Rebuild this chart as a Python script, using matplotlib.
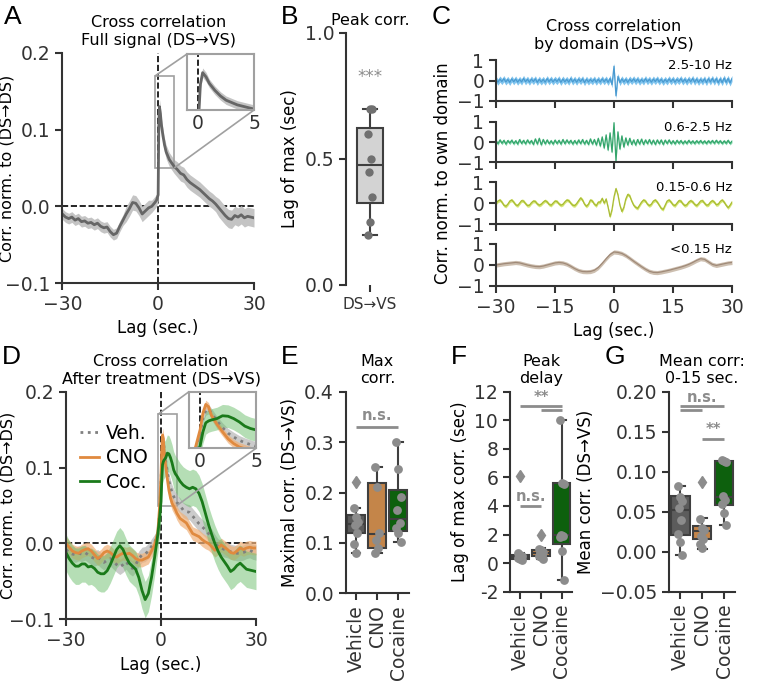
import numpy as np
import matplotlib
matplotlib.use("Agg")
import matplotlib.pyplot as plt
from mpl_toolkits.axes_grid1.inset_locator import mark_inset

# ---------------------------------------------------------------- data
# A: full-signal cross correlation (DS->VS), mean and sem
lag_a = list(range(-30, 0)) + [-0.5, 0, 0.2, 0.4, 0.7, 1, 1.5, 2, 2.5, 3, 3.5,
                               4, 4.5, 5] + list(range(6, 31))
corr_a = [-0.010, -0.014, -0.016, -0.014, -0.018, -0.016, -0.020, -0.019,
          -0.022, -0.021, -0.024, -0.022, -0.026, -0.028, -0.027, -0.033,
          -0.037, -0.035, -0.026, -0.018, -0.010, -0.003, 0.005, 0.004,
          -0.002, -0.010, -0.006, -0.002, 0.000, 0.005,
          0.008, 0.015, 0.105, 0.130, 0.121,
          0.107, 0.092, 0.080, 0.071, 0.066, 0.061, 0.058, 0.055, 0.052,
          0.048, 0.043, 0.041, 0.035, 0.031, 0.028, 0.025, 0.022, 0.018,
          0.014, 0.010, 0.007, 0.003, -0.002, -0.007, -0.012, -0.016,
          -0.017, -0.012, -0.014, -0.011, -0.015, -0.013, -0.014, -0.015]
sem_a = [0.007] * 20 + [0.010] * 8 + [0.008] * 2 + \
        [0.008, 0.008, 0.009, 0.010, 0.010] + [0.009] * 9 + \
        [0.010] * 13 + [0.012] * 12

# B: lag of max correlation per animal
peak_lag = [0.2, 0.25, 0.35, 0.45, 0.5, 0.6, 0.7, 0.7]

# C: cross correlation per frequency domain (0.5 s grid / 1 s grid)
lag_c = np.arange(-30, 30.01, 0.5)
band_fast = [0.06, -0.08, 0.07, -0.05, 0.09, -0.07, 0.05, -0.09, 0.08, -0.06,
             0.07, -0.08, 0.05, -0.07, 0.10, -0.06, 0.06, -0.08, 0.07, -0.05,
             0.08, -0.09, 0.06, -0.07, 0.05, -0.08, 0.09, -0.06, 0.07, -0.07,
             0.06, -0.05, 0.08, -0.09, 0.07, -0.06, 0.05, -0.08, 0.10, -0.07,
             0.06, -0.08, 0.07, -0.05, 0.08, -0.10, 0.06, -0.07, 0.05, -0.06,
             0.07, -0.08, 0.06, -0.07, 0.08, -0.06, 0.07, -0.09, 0.10, -0.20,
             0.70,
             -0.75, 0.20, -0.10, 0.08, -0.07, 0.06, -0.09, 0.07, -0.05, 0.08,
             -0.06, 0.07, -0.08, 0.05, -0.07, 0.09, -0.06, 0.06, -0.08, 0.07,
             -0.05, 0.08, -0.07, 0.06, -0.09, 0.05, -0.07, 0.08, -0.06, 0.07,
             -0.08, 0.06, -0.05, 0.09, -0.07, 0.06, -0.08, 0.07, -0.06, 0.10,
             -0.08, 0.07, -0.09, 0.06, -0.07, 0.08, -0.10, 0.09, -0.07, 0.10,
             -0.08, 0.09, -0.11, 0.08, -0.10, 0.12, -0.09, 0.10, -0.12, 0.10]
band_mid = [0.05, -0.08, 0.10, -0.06, 0.08, -0.10, 0.07, -0.05, 0.09, -0.08,
            0.06, -0.10, 0.12, -0.07, 0.08, -0.09, 0.10, -0.06, 0.07, -0.12,
            0.15, -0.10, 0.18, -0.14, 0.12, -0.09, 0.10, -0.08, 0.06, -0.10,
            0.09, -0.07, 0.08, -0.10, 0.12, -0.08, 0.10, -0.06, 0.08, -0.10,
            0.07, -0.09, 0.10, -0.08, 0.12, -0.10, 0.08, -0.12, 0.15, -0.10,
            0.12, -0.15, 0.18, -0.20, 0.25, -0.30, 0.35, -0.40, 0.45, -0.50,
            0.95,
            -0.95, 0.50, -0.35, 0.30, -0.25, 0.20, -0.15, 0.18, -0.12, 0.10,
            -0.15, 0.12, -0.10, 0.14, -0.12, 0.10, -0.08, 0.12, -0.10, 0.09,
            -0.12, 0.10, -0.08, 0.10, -0.12, 0.09, -0.07, 0.10, -0.08, 0.06,
            -0.09, 0.08, -0.06, 0.07, -0.08, 0.05, -0.07, 0.08, -0.06, 0.05,
            -0.07, 0.06, -0.05, 0.07, -0.06, 0.05, -0.07, 0.06, -0.05, 0.07,
            -0.06, 0.08, -0.05, 0.06, -0.07, 0.05, -0.06, 0.08, -0.07, 0.04]
band_low = [0.00, 0.10, 0.15, 0.05, -0.10, -0.15, -0.05, 0.10, 0.15, 0.05,
            -0.08, -0.12, 0.00, 0.12, 0.10, -0.02, -0.12, -0.10, 0.02, 0.10,
            0.08, -0.04, -0.10, -0.05, 0.05, 0.12, 0.06, -0.06, -0.10, 0.00,
            0.10, 0.08, -0.03, -0.10, -0.06, 0.06, 0.15, 0.12, 0.00, -0.10,
            -0.12, -0.02, 0.12, 0.25, 0.15, -0.05, -0.15, -0.05, 0.15, 0.10,
            -0.05, -0.12, 0.05, 0.05, 0.23, 0.00, 0.20, -0.20, -0.65, -0.30,
            0.30,
            0.70, 0.40, -0.10, -0.40, -0.20, 0.20, 0.42, 0.35, 0.10, -0.10,
            -0.20, -0.25, -0.10, 0.05, 0.15, 0.10, -0.05, -0.12, -0.05, 0.10,
            0.15, 0.05, -0.10, -0.25, -0.30, -0.10, 0.10, 0.15, 0.05, -0.08,
            -0.12, 0.00, 0.12, 0.10, -0.03, -0.12, -0.08, 0.05, 0.12, 0.06,
            -0.06, -0.12, -0.02, 0.10, 0.12, 0.00, -0.10, -0.08, 0.05, 0.12,
            0.05, -0.08, -0.05, 0.08, 0.15, 0.05, -0.10, -0.22, -0.10, 0.05]
lag_slow = np.arange(-30, 31, 1)
band_slow = [0.00, 0.03, 0.06, 0.08, 0.10, 0.12, 0.10, 0.05, 0.00, -0.04,
             -0.07, -0.08, -0.05, 0.00, 0.05, 0.10, 0.12, 0.10, 0.04, -0.06,
             -0.17, -0.26, -0.31, -0.32, -0.31, -0.25, -0.12, 0.08, 0.30, 0.50,
             0.62,
             0.60, 0.55, 0.45, 0.32, 0.18, 0.05, -0.08, -0.20, -0.30, -0.35,
             -0.36, -0.33, -0.29, -0.25, -0.20, -0.15, -0.10, -0.04, 0.03, 0.12,
             0.22, 0.30, 0.27, 0.15, 0.03, -0.02, 0.02, 0.06, 0.10, 0.12]
domain_names = ["2.5-10 Hz", "0.6-2.5 Hz", "0.15-0.6 Hz", "<0.15 Hz"]
domain_sem = [0.15, 0.08, 0.08, 0.10]

# D: cross correlation after treatment
lag_d = list(range(-30, 0)) + [-0.5, 0, 0.25, 0.5, 0.75, 1, 1.5, 2, 2.5, 3,
                               3.5, 4, 4.5, 5] + list(range(6, 31))
corr_veh = [-0.008, -0.012, -0.014, -0.015, -0.013, -0.014, -0.012, -0.015,
            -0.018, -0.020, -0.018, -0.022, -0.025, -0.022, -0.020, -0.024,
            -0.028, -0.031, -0.028, -0.024, -0.030, -0.033, -0.028, -0.020,
            -0.015, -0.014, -0.010, -0.004, 0.002, 0.010,
            0.040, 0.080, 0.115, 0.130, 0.133, 0.125, 0.108, 0.094, 0.082,
            0.074, 0.067, 0.062, 0.058, 0.054,
            0.050, 0.044, 0.042, 0.041, 0.036, 0.031, 0.026, 0.022, 0.018,
            0.013, 0.009, 0.002, -0.004, -0.006, -0.008, -0.009, -0.011,
            -0.012, -0.013, -0.013, -0.012, -0.010, -0.009, -0.011, -0.012]
corr_cno = [0.000, -0.005, -0.010, -0.012, -0.013, -0.010, -0.008, -0.007,
            -0.010, -0.015, -0.020, -0.017, -0.012, -0.010, -0.012, -0.016,
            -0.018, -0.015, -0.013, -0.014, -0.013, -0.016, -0.020, -0.022,
            -0.022, -0.020, -0.018, -0.010, -0.002, 0.015,
            0.045, 0.090, 0.125, 0.143, 0.138, 0.120, 0.101, 0.085, 0.070,
            0.060, 0.053, 0.049, 0.045, 0.040,
            0.033, 0.030, 0.027, 0.020, 0.013, 0.011, 0.009, 0.005, 0.002,
            0.000, -0.004, -0.009, -0.006, -0.002, -0.005, -0.008, -0.012,
            -0.013, -0.010, -0.006, -0.008, -0.006, -0.005, -0.006, -0.006]
corr_coc = [-0.012, -0.020, -0.026, -0.030, -0.030, -0.027, -0.027, -0.031,
            -0.030, -0.033, -0.038, -0.040, -0.040, -0.036, -0.028, -0.018,
            -0.008, -0.003, -0.008, -0.018, -0.026, -0.030, -0.034, -0.045,
            -0.062, -0.074, -0.066, -0.045, -0.018, 0.012,
            0.032, 0.055, 0.085, 0.104, 0.108, 0.110, 0.113, 0.119, 0.118,
            0.113, 0.106, 0.097, 0.092, 0.089,
            0.082, 0.077, 0.074, 0.072, 0.074, 0.072, 0.066, 0.055, 0.040,
            0.025, 0.012, 0.000, -0.010, -0.018, -0.024, -0.030, -0.037,
            -0.034, -0.029, -0.026, -0.030, -0.034, -0.035, -0.036, -0.037]
sem_veh = 0.010
sem_cno = 0.009
sem_coc = 0.024

groups = ["Vehicle", "CNO", "Cocaine"]
max_stats = [(0.079, 0.120, 0.137, 0.155, 0.170, [0.221]),
             (0.079, 0.090, 0.117, 0.218, 0.251, []),
             (0.101, 0.123, 0.147, 0.205, 0.300, [])]
max_points = [[0.169, 0.152, 0.142, 0.136, 0.120, 0.098, 0.079],
              [0.251, 0.210, 0.119, 0.106, 0.089, 0.080],
              [0.300, 0.247, 0.192, 0.165, 0.139, 0.129, 0.119, 0.101]]
delay_stats = [(0.25, 0.32, 0.45, 0.60, 0.70, [6.1]),
               (0.30, 0.50, 0.72, 0.95, 1.05, [2.0]),
               (-1.2, 1.35, 1.95, 5.60, 10.0, [])]
delay_points = [[0.70, 0.60, 0.50, 0.45, 0.40, 0.35, 0.30, 0.25],
                [1.00, 0.90, 0.80, 0.70, 0.60, 0.50, 0.40, 0.30],
                [10.0, 5.60, 5.55, 2.00, 1.90, 1.80, 0.85, -1.20]]
mean_stats = [(-0.004, 0.021, 0.052, 0.0696, 0.082, []),
              (0.004, 0.016, 0.026, 0.0325, 0.042, [0.0875]),
              (0.0333, 0.059, 0.069, 0.1133, 0.115, [])]
mean_points = [[0.082, 0.068, 0.063, 0.055, 0.040, 0.022, 0.012, -0.004],
               [0.041, 0.030, 0.027, 0.020, 0.016, 0.010, 0.005],
               [0.115, 0.113, 0.112, 0.070, 0.065, 0.060, 0.049, 0.034]]

# ---------------------------------------------------------------- style
W, H = 762, 683
INK = "#333333"
TRACE = "#666666"
SIG = "#8c8c8c"
BOX_COLORS = ["#5c5c5c", "#c48549", "#0d600d"]
C_VEH, C_CNO, C_COC = "#808080", "#e08a3f", "#1a7a1a"
DOMAIN_LINE = ["#4a9ad0", "#35a56c", "#a9bb34", "#a08a78"]
DOMAIN_FILL = ["#80c4ee", "#84d9ad", "#d6e774", "#cdbfb0"]

plt.rcParams.update({
    "font.size": 12,
    "axes.titlesize": 11.5,
    "axes.labelsize": 12,
    "xtick.labelsize": 13.5,
    "ytick.labelsize": 13.5,
    "axes.edgecolor": INK,
    "axes.linewidth": 1.5,
    "xtick.color": INK,
    "ytick.color": INK,
    "xtick.major.width": 1.5,
    "ytick.major.width": 1.5,
    "xtick.major.size": 5,
    "ytick.major.size": 5,
    "axes.spines.top": False,
    "axes.spines.right": False,
})

fig = plt.figure(figsize=(W / 100, H / 100), dpi=100)


def add_ax(x0, y0, x1, y1):
    # pixel box (top-left origin) -> figure fraction
    return fig.add_axes([x0 / W, 1 - y1 / H, (x1 - x0) / W, (y1 - y0) / H])


def letter(x, y, s):
    fig.text(x / W, 1 - y / H, s, fontsize=19, family="Liberation Sans",
             va="baseline", ha="left")


def band(ax, x, y, s, color, fill, **kw):
    x, y = np.asarray(x, float), np.asarray(y, float)
    ax.fill_between(x, y - s, y + s, color=fill, lw=0, alpha=kw.pop("alpha", 1))
    ax.plot(x, y, color=color, **kw)


def zeros(ax):
    ax.axvline(0, color="k", ls="--", lw=1.2, zorder=0)
    ax.axhline(0, color="k", ls="--", lw=1.2, zorder=0)


def make_inset(ax, box):
    axin = add_ax(*box)
    axin.set_xlim(-1, 5)
    axin.set_ylim(0.05, 0.17)
    axin.set_xticks([0, 5])
    axin.set_yticks([])
    axin.tick_params(axis="x", length=0, pad=3)
    for s in axin.spines.values():
        s.set_visible(True)
        s.set_color("#a0a0a0")
        s.set_linewidth(1.5)
    axin.axvline(0, color="k", ls="--", lw=1.2, zorder=0)
    mark_inset(ax, axin, loc1=2, loc2=4, fc="none", ec="#a0a0a0", lw=1.2)
    return axin


def trace_axes(ax, title, label_x):
    ax.set_xlim(-30, 30)
    ax.set_ylim(-0.1, 0.2)
    ax.set_xticks([-30, 0, 30])
    ax.set_yticks([-0.1, 0.0, 0.1, 0.2])
    ax.set_xlabel("Lag (sec.)")
    ax.set_ylabel("Corr. norm. to (DS\u2192DS)", fontsize=11.5)
    ax.yaxis.set_label_coords(label_x, 0.5)
    ax.set_title(title)
    zeros(ax)


def jitter(n):
    return ((np.arange(n) * 7) % 5 - 2) * 0.05


def summary_box(ax, stats, points, ylim, title, ylabel):
    bx = [dict(whislo=s[0], q1=s[1], med=s[2], q3=s[3], whishi=s[4],
               fliers=s[5]) for s in stats]
    art = ax.bxp(bx, positions=range(len(bx)), widths=0.85, patch_artist=True,
                 medianprops=dict(color="#3f3f3f", lw=1.5),
                 whiskerprops=dict(color="#3f3f3f", lw=1.5),
                 capprops=dict(color="#3f3f3f", lw=1.5),
                 boxprops=dict(edgecolor="#3f3f3f", lw=1.5),
                 flierprops=dict(marker="d", markerfacecolor="#8c8c8c",
                                 markeredgecolor="#8c8c8c", markersize=6),
                 capwidths=0.4)
    for patch, c in zip(art["boxes"], BOX_COLORS):
        patch.set_facecolor(c)
    for i, pts in enumerate(points):
        ax.scatter(i + jitter(len(pts)), pts, s=40, color="#8c8c8c",
                   zorder=4, lw=0)
    ax.set_xlim(-0.5, 2.5)
    ax.set_ylim(*ylim)
    ax.set_xticks(range(3))
    ax.set_xticklabels(groups, rotation=90)
    ax.set_title(title)
    ax.set_ylabel(ylabel)


def sig(ax, x0, x1, y):
    ax.plot([x0, x1], [y, y], color=SIG, lw=2, solid_capstyle="butt")


def sig_text(ax, x, y, s):
    ax.text(x, y, s, color=SIG, ha="center", va="bottom", fontsize=10.5,
            fontweight="bold")


# ---------------------------------------------------------------- A
axA = add_ax(62.3, 53, 254, 283)
trace_axes(axA, "Cross correlation\nFull signal (DS\u2192VS)", -0.247)
band(axA, lag_a, corr_a, np.asarray(sem_a), TRACE, "#c4c4c4", lw=2)
insA = make_inset(axA, (187, 54, 254, 110))
band(insA, lag_a, corr_a, np.asarray(sem_a), TRACE, "#c4c4c4", lw=2)
letter(4, 24, "A")

# ---------------------------------------------------------------- B
axB = add_ax(346, 33, 394, 285)
axB.bxp([dict(whislo=min(peak_lag), q1=np.percentile(peak_lag, 25),
              med=np.median(peak_lag), q3=np.percentile(peak_lag, 75),
              whishi=max(peak_lag), fliers=[])],
        positions=[0], widths=0.56, patch_artist=True,
        boxprops=dict(facecolor="#d3d3d3", edgecolor="#3f3f3f", lw=1.5),
        medianprops=dict(color="#3f3f3f", lw=1.5),
        whiskerprops=dict(color="#3f3f3f", lw=1.5),
        capprops=dict(color="#3f3f3f", lw=1.5), capwidths=0.3)
axB.scatter(jitter(len(peak_lag)) * 0.4, peak_lag, s=36, color="#707070",
            zorder=4, lw=0)
axB.set_xlim(-0.5, 0.5)
axB.set_ylim(0, 1)
axB.set_yticks([0.0, 0.5, 1.0])
axB.set_xticks([0])
axB.set_xticklabels(["DS\u2192VS"], fontsize=11)
axB.spines["bottom"].set_visible(False)
axB.set_ylabel("Lag of max (sec)")
axB.set_title("Peak corr.")
axB.text(0, 0.79, "***", color=SIG, ha="center", va="bottom", fontsize=12)
letter(281, 24, "B")

# ---------------------------------------------------------------- C
rows = [(60, 101), (121.7, 162.3), (182.3, 224), (244, 286)]
series = [(lag_c, band_fast), (lag_c, band_mid), (lag_c, band_low),
          (lag_slow, band_slow)]
axC = []
for i, ((y0, y1), (x, y)) in enumerate(zip(rows, series)):
    ax = add_ax(496, y0, 732, y1)
    band(ax, x, y, domain_sem[i], DOMAIN_LINE[i], DOMAIN_FILL[i], lw=0.9)
    ax.set_xlim(-30, 30)
    ax.set_ylim(-1, 1)
    ax.set_yticks([-1, 0, 1])
    ax.set_xticks([-30, -15, 0, 15, 30])
    if i < 3:
        ax.set_xticklabels([])
    ax.text(1.0, 1.02, domain_names[i], transform=ax.transAxes, ha="right",
            va="top", fontsize=9.5)
    axC.append(ax)
axC[0].set_title("Cross correlation\nby domain (DS\u2192VS)", pad=8)
axC[-1].set_xlabel("Lag (sec.)")
fig.text(443 / W, 1 - 173 / H, "Corr. norm. to own domain", rotation=90,
         ha="center", va="center", fontsize=12)
letter(432, 24, "C")

# ---------------------------------------------------------------- D
axD = add_ax(66, 391.7, 256, 619.3)
trace_axes(axD, "Cross correlation\nAfter treatment (DS\u2192VS)", -0.264)
insD = make_inset(axD, (189, 391.7, 256, 448.3))
for ax in (axD, insD):
    band(ax, lag_d, corr_veh, sem_veh, C_VEH, "#a9a9a9", ls=":", lw=2,
         alpha=0.6, label="Veh.")
    band(ax, lag_d, corr_cno, sem_cno, C_CNO, "#f0b078", lw=2, alpha=0.7,
         label="CNO")
    band(ax, lag_d, corr_coc, sem_coc, C_COC, "#6cbf6c", lw=2, alpha=0.5,
         label="Coc.")
axD.legend(loc="upper left", bbox_to_anchor=(0.074, 0.86), frameon=False,
           fontsize=13.5, handlelength=1.0, handletextpad=0.4,
           borderpad=0, borderaxespad=0, labelspacing=0.3)
letter(2, 364, "D")

# ---------------------------------------------------------------- E
axE = add_ax(345.7, 391.7, 409, 593.3)
summary_box(axE, max_stats, max_points, (0, 0.4), "Max\ncorr.",
            "Maximal corr. (DS\u2192VS)")
axE.set_yticks([0.0, 0.1, 0.2, 0.3, 0.4])
sig(axE, 0, 2, 0.33)
sig_text(axE, 1, 0.337, "n.s.")
letter(281, 364, "E")

# ---------------------------------------------------------------- F
axF = add_ax(510, 391.7, 572, 591.7)
summary_box(axF, delay_stats, delay_points, (-2, 12), "Peak\ndelay",
            "Lag of max corr. (sec)")
ticks_f = [-2, 0, 2, 4, 6, 8, 10, 12]
axF.set_yticks(ticks_f)
axF.set_yticklabels([str(t) for t in ticks_f])
sig(axF, 0, 2, 11.0)
sig(axF, 1, 2, 10.72)
sig_text(axF, 1, 11.1, "**")
sig(axF, 0, 1, 4.0)
sig_text(axF, 0.5, 4.15, "n.s.")
letter(451, 364, "F")

# ---------------------------------------------------------------- G
axG = add_ax(669.3, 391.7, 735, 591.7)
summary_box(axG, mean_stats, mean_points, (-0.05, 0.2), "Mean corr:\n0-15 sec.",
            "Mean corr. (DS\u2192VS)")
axG.set_yticks([-0.05, 0.0, 0.05, 0.1, 0.15, 0.2])
sig(axG, 0, 2, 0.182)
sig(axG, 0, 1, 0.177)
sig_text(axG, 1, 0.184, "n.s.")
sig(axG, 1, 2, 0.141)
sig_text(axG, 1.5, 0.143, "**")
letter(605, 364, "G")

fig.savefig("out.png", dpi=100)
